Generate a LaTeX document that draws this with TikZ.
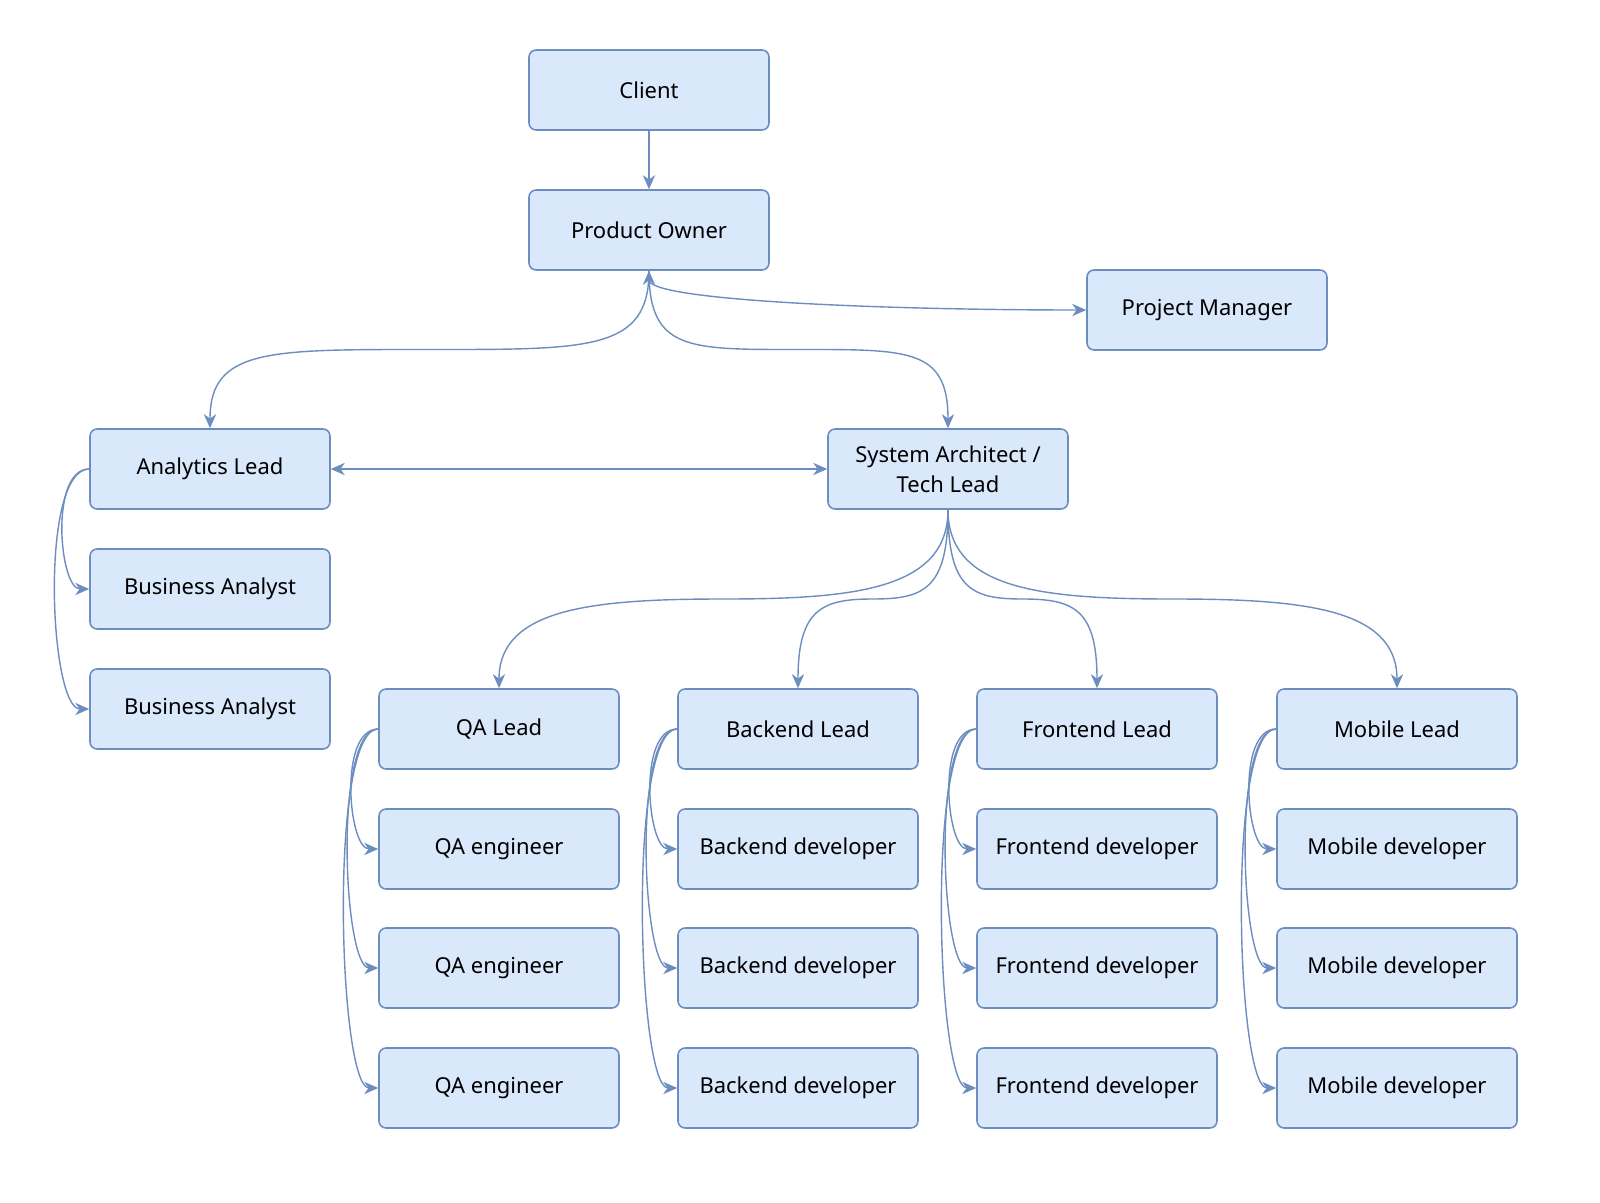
\documentclass[tikz,border=0pt]{standalone}
\usepackage{fontspec}
\setmainfont{Noto Sans}
\usetikzlibrary{arrows.meta,calc}
\definecolor{bd}{HTML}{6C8EBF}
\definecolor{fl}{HTML}{DAE8FC}
\begin{document}
\begin{tikzpicture}[x=0.02cm,y=-0.02cm,
 box/.style={draw=bd,fill=fl,line width=0.9pt,rounded corners=4pt,minimum width=4.8cm,minimum height=1.6cm,align=center,font=\fontsize{12.5}{17}\selectfont},
 ln/.style={draw=bd,line width=0.8pt,-{Stealth[length=8pt,width=7pt,inset=2.5pt]}},
 bi/.style={draw=bd,line width=0.8pt,{Stealth[length=8pt,width=7pt,inset=2.5pt]}-{Stealth[length=8pt,width=7pt,inset=2.5pt]}}]
\useasboundingbox (0,0) rectangle (1600,1203);
\node[box] (cl) at (649,90) {Client};
\node[box] (po) at (649,230) {Product Owner};
\node[box] (pm) at (1207,310) {Project Manager};
\node[box] (al) at (210,469) {Analytics Lead};
\node[box] (sa) at (948,469) {System Architect /\\Tech Lead};
\node[box] (ba1) at (210,589) {Business Analyst};
\node[box] (ba2) at (210,709) {Business Analyst};
\foreach \n/\x/\t/\c/\d in {q/499/QA Lead/QA engineer/130,b/798/Backend Lead/Backend developer/50,f/1097/Frontend Lead/Frontend developer/-50,m/1397/Mobile Lead/Mobile developer/-130}{
 \node[box] (\n0) at (\x,729) {\t};
 \node[box] (\n1) at (\x,849) {\c};
 \node[box] (\n2) at (\x,968) {\c};
 \node[box] (\n3) at (\x,1088) {\c};
 \draw[ln] (\n0.west) .. controls +(-40,0) and +(-30,0) .. (\n1.west);
 \draw[ln] (\n0.west) .. controls +(-45,0) and +(-35,0) .. (\n2.west);
 \draw[ln] (\n0.west) .. controls +(-50,0) and +(-40,0) .. (\n3.west);
 \coordinate (\n m) at ($(sa.south)!0.5!(\n0.north)$);
 \draw[ln] (sa.south) .. controls +(0,80) and +(\d,0) .. (\n m) .. controls +(-\d,0) and +(0,-80) .. (\n0.north);
}
\draw[ln] (cl) -- (po);
\coordinate (lm) at ($(po.south)!0.5!(al.north)$);
\coordinate (rm) at ($(po.south)!0.5!(sa.north)$);
\draw[ln] (po.south) .. controls +(0,80) and +(160,0) .. (lm) .. controls +(-160,0) and +(0,-80) .. (al.north);
\draw[ln] (po.south) .. controls +(0,80) and +(-110,0) .. (rm) .. controls +(110,0) and +(0,-80) .. (sa.north);
\draw[bi] (po.south) .. controls +(0,30) and +(-200,0) .. (pm.west);
\draw[bi] (al) -- (sa);
\draw[ln] (al.west) .. controls +(-40,0) and +(-30,0) .. (ba1.west);
\draw[ln] (al.west) .. controls +(-50,0) and +(-40,0) .. (ba2.west);
\end{tikzpicture}
\end{document}
